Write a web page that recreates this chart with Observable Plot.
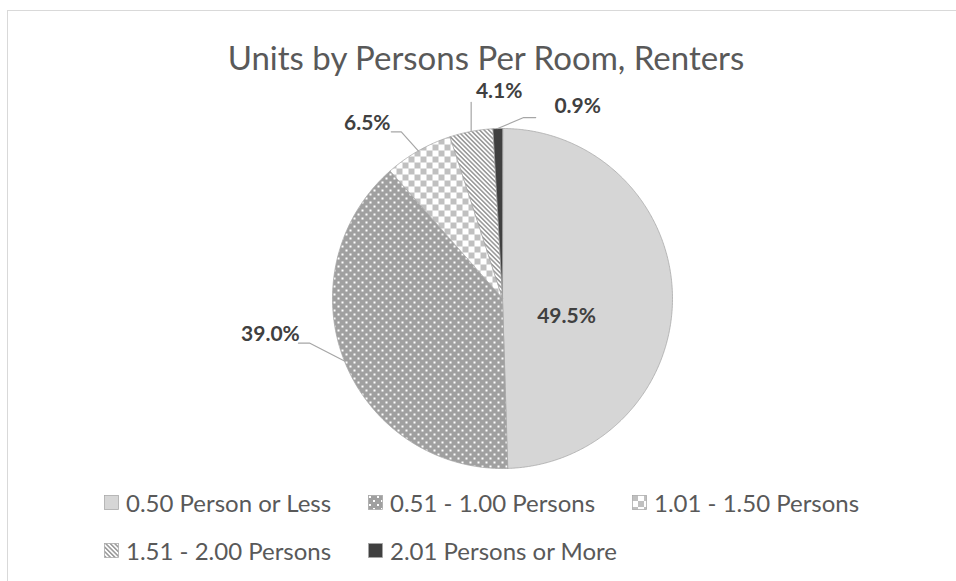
<!DOCTYPE html>
<html>
<head>
<meta charset="utf-8">
<script src="https://cdn.jsdelivr.net/npm/d3@7"></script>
<script src="https://cdn.jsdelivr.net/npm/@observablehq/plot@0.6"></script>
<style>
  html, body { margin: 0; padding: 0; background: #fff; }
  #wrap { position: relative; width: 956px; height: 581px; overflow: hidden; background: #fff; font-family: Lato, "Open Sans", sans-serif; }
  #frame { position: absolute; left: 7px; top: 10px; width: 1100px; height: 800px; border: 1px solid #d9d9d9; box-sizing: border-box; }
  #title { position: absolute; left: 0; top: 42px; width: 972px; height: 30px; text-align: center; font-size: 33px; line-height: 30px; color: #595959; white-space: nowrap; }
  #plot { position: absolute; left: 0; top: 0; }
  .lg { position: absolute; height: 29px; display: flex; align-items: center; font-size: 24px; line-height: 29px; color: #595959; white-space: nowrap; }
  .lg svg { margin-right: 7px; }
</style>
</head>
<body>
<svg width="0" height="0" style="position:absolute">
  <defs>
    <pattern id="p-light" width="4" height="4" patternUnits="userSpaceOnUse">
      <rect width="4" height="4" fill="#d6d6d6"/>
    </pattern>
    <pattern id="p-dots" width="8" height="8" patternUnits="userSpaceOnUse">
      <rect width="8" height="8" fill="#a0a0a0"/>
      <rect x="1" y="1" width="2" height="2" fill="#ffffff"/>
      <rect x="5" y="5" width="2" height="2" fill="#ffffff"/>
    </pattern>
    <pattern id="p-check" width="12" height="12" patternUnits="userSpaceOnUse">
      <rect width="12" height="12" fill="#ffffff"/>
      <rect x="0" y="0" width="6" height="6" fill="#c0c0c0"/>
      <rect x="6" y="6" width="6" height="6" fill="#c0c0c0"/>
    </pattern>
    <pattern id="p-stripes" width="3.2" height="10" patternUnits="userSpaceOnUse" patternTransform="rotate(-45)">
      <rect width="3.2" height="10" fill="#ffffff"/>
      <rect width="1.6" height="10" fill="#9c9c9c"/>
    </pattern>
    <pattern id="p-dark" width="4" height="4" patternUnits="userSpaceOnUse">
      <rect width="4" height="4" fill="#404040"/>
    </pattern>
  </defs>
</svg>
<div id="wrap">
  <div id="frame"></div>
  <div id="plot"></div>
  <div id="title">Units by Persons Per Room, Renters</div>
  <div id="legend"></div>
</div>
<script>
// ---- data ----
const categories = ["0.50 Person or Less", "0.51 - 1.00 Persons", "1.01 - 1.50 Persons", "1.51 - 2.00 Persons", "2.01 Persons or More"];
const shares = [49.5, 39.0, 6.5, 4.1, 0.9];
const labels = ["49.5%", "39.0%", "6.5%", "4.1%", "0.9%"];
const patternIds = ["p-light", "p-dots", "p-check", "p-stripes", "p-dark"];

// ---- layout (pixels) ----
const W = 956, H = 480;
const CX = 502, CY = 298, R = 170;
// label placement relative to slice mid-arc point: label center offset, leader elbow and end
const labelLayout = [
  {inside: true, lx: 64, ly: 18},
  {lx: -74, ly: -27, leader: [[-35, -18], [-46, -18]]},
  {lx: -51, ly: -28, leader: [[-17, -19], [-27, -19]]},
  {lx: 28, ly: -40, leader: [[0, -29]]},
  {lx: 80, ly: -22, leader: [[26, -11], [38, -11]]}
];

const arcs = d3.pie().sort(null).value(d => d)(shares);

// slice polygons in data units (radius = 1, y up)
const slicePts = [];
arcs.forEach((a, i) => {
  const cat = categories[i];
  slicePts.push({cat, x: 0, y: 0});
  const n = Math.max(2, Math.ceil((a.endAngle - a.startAngle) / (Math.PI / 360)));
  for (let k = 0; k <= n; k++) {
    const t = a.startAngle + (a.endAngle - a.startAngle) * k / n;
    slicePts.push({cat, x: Math.sin(t), y: Math.cos(t)});
  }
});

const leaderPts = [];
const labelPts = [];
arcs.forEach((a, i) => {
  const L = labelLayout[i];
  const mid = (a.startAngle + a.endAngle) / 2;
  const mx = Math.sin(mid), my = Math.cos(mid);
  if (L.inside) {
    labelPts.push({x: L.lx / R, y: -L.ly / R, text: labels[i]});
  } else {
    labelPts.push({x: mx + L.lx / R, y: my - L.ly / R, text: labels[i]});
    leaderPts.push({cat: categories[i], x: mx, y: my});
    L.leader.forEach(([dx, dy]) => leaderPts.push({cat: categories[i], x: mx + dx / R, y: my - dy / R}));
  }
});

const chart = Plot.plot({
  width: W,
  height: H,
  margin: 0,
  style: {fontFamily: "Lato, 'Open Sans', sans-serif", background: "transparent", overflow: "visible"},
  x: {domain: [-CX / R, (W - CX) / R], axis: null},
  y: {domain: [(CY - H) / R, CY / R], axis: null},
  color: {type: "ordinal", domain: categories, range: patternIds.map(id => `url(#${id})`)},
  marks: [
    Plot.line(slicePts, {x: "x", y: "y", z: "cat", fill: "cat", stroke: "#a6a6a6", strokeWidth: 0.75, curve: "linear-closed"}),
    Plot.line(leaderPts, {x: "x", y: "y", z: "cat", stroke: "#a6a6a6", strokeWidth: 1.2}),
    Plot.text(labelPts, {x: "x", y: "y", text: "text", fontSize: 21, fontWeight: "bold", fill: "#404040"})
  ]
});
document.getElementById("plot").appendChild(chart);

// ---- legend ----
const legend = document.getElementById("legend");
const colLeft = 104, colStep = 264, rowTop = 488, rowStep = 48;
categories.forEach((c, i) => {
  const col = i % 3, row = Math.floor(i / 3);
  const item = document.createElement("div");
  item.className = "lg";
  item.style.left = (colLeft + col * colStep) + "px";
  item.style.top = (rowTop + row * rowStep) + "px";
  item.innerHTML = `<svg width="15" height="15"><rect x="0.5" y="0.5" width="14" height="14" fill="url(#${patternIds[i]})" stroke="#a6a6a6" stroke-width="0.75"/></svg><span>${c}</span>`;
  legend.appendChild(item);
});
</script>
</body>
</html>
